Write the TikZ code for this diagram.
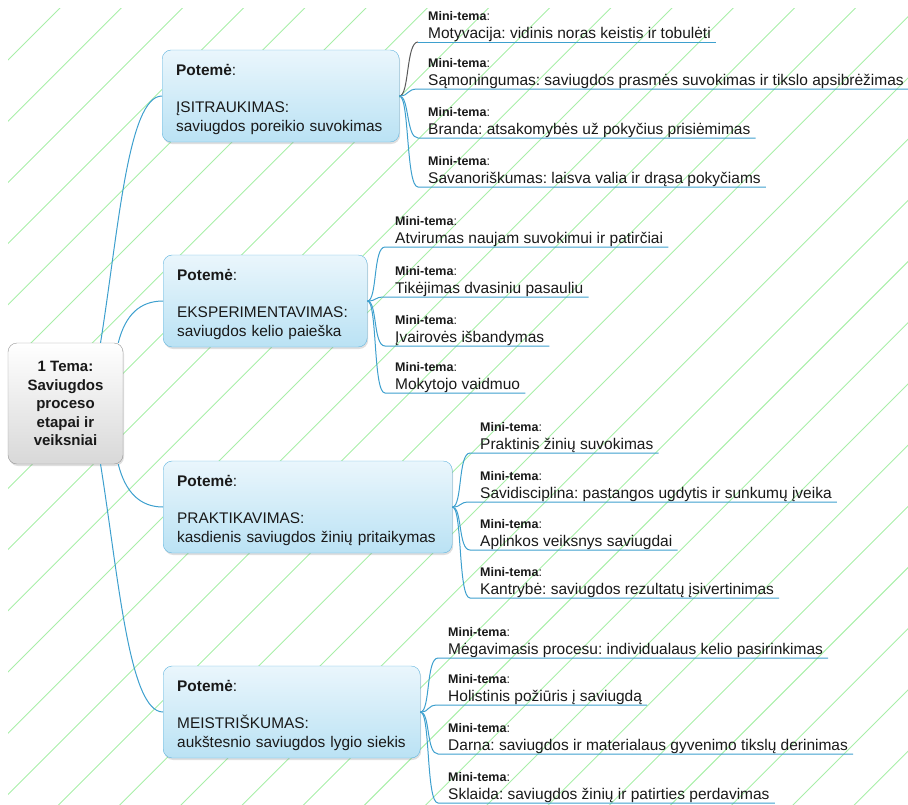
\documentclass[tikz,border=0pt]{standalone}
\usepackage{fontspec}
\setmainfont{Liberation Sans}
\usetikzlibrary{shadows}
\frenchspacing

\definecolor{stripe}{RGB}{168,238,168}
\definecolor{branch}{RGB}{62,160,206}
\definecolor{boxline}{RGB}{96,180,222}
\definecolor{boxtop}{RGB}{234,246,252}
\definecolor{boxbot}{RGB}{186,226,244}
\definecolor{temaline}{RGB}{150,150,150}
\definecolor{temabot}{RGB}{216,216,216}
\definecolor{txt}{RGB}{25,25,25}

\begin{document}
\begin{tikzpicture}[x=1pt, y=-1pt, text=txt]

\useasboundingbox (0,0) rectangle (908,804);

\begin{scope}
    \clip (8,8) rectangle (908,804);
    \foreach \k in {0,...,27}
        \draw[stripe, line width=0.9pt] ({68+61.2*\k},0) -- ({68+61.2*\k-900},900);
\end{scope}

\begin{scope}[every node/.style={draw=temaline, rounded corners=9pt, top color=white, bottom color=temabot, align=center, minimum width=115pt, minimum height=121pt, font=\fontsize{15}{18.5}\selectfont\bfseries, drop shadow={opacity=0.25, shadow xshift=1pt, shadow yshift=-2pt}}]
    \node (tema) at (65.5,403.5) {1 Tema:\\Saviugdos\\proceso\\etapai ir\\veiksniai};
\end{scope}

\begin{scope}[every node/.style={draw=boxline, rounded corners=9pt, top color=boxtop, bottom color=boxbot, anchor=west, align=left, minimum height=92pt, inner xsep=14pt, font=\fontsize{15.4}{19}\selectfont, drop shadow={opacity=0.25, shadow xshift=1pt, shadow yshift=-2pt}}]
    \node[text width=209pt] (p1) at (162,96) {\rule{0pt}{18.5pt}\textbf{Potemė}:\\[18pt]ĮSITRAUKIMAS:\\saviugdos poreikio suvokimas};
    \node[text width=176pt] (p2) at (163,301) {\rule{0pt}{18.5pt}\textbf{Potemė}:\\[18pt]EKSPERIMENTAVIMAS:\\saviugdos kelio paieška};
    \node[text width=261pt] (p3) at (163,507) {\rule{0pt}{18.5pt}\textbf{Potemė}:\\[18pt]PRAKTIKAVIMAS:\\kasdienis saviugdos žinių pritaikymas};
    \node[text width=229pt] (p4) at (163,712) {\rule{0pt}{18.5pt}\textbf{Potemė}:\\[18pt]MEISTRIŠKUMAS:\\aukštesnio saviugdos lygio siekis};
\end{scope}

\begin{scope}[every node/.style={anchor=south west, align=left, inner sep=0pt, text depth=3.5pt, font=\fontsize{15.5}{17.5}\selectfont}]
    \node (m11) at (428,42) {{\fontsize{12.5}{14}\selectfont\textbf{Mini-tema}:}\\Motyvacija: vidinis noras keistis ir tobulėti};
    \node (m12) at (428,89) {{\fontsize{12.5}{14}\selectfont\textbf{Mini-tema}:}\\Sąmoningumas: saviugdos prasmės suvokimas ir tikslo apsibrėžimas};
    \node (m13) at (428,138) {{\fontsize{12.5}{14}\selectfont\textbf{Mini-tema}:}\\Branda: atsakomybės už pokyčius prisiėmimas};
    \node (m14) at (428,187) {{\fontsize{12.5}{14}\selectfont\textbf{Mini-tema}:}\\Savanoriškumas: laisva valia ir drąsa pokyčiams};

    \node (m21) at (395,247) {{\fontsize{12.5}{14}\selectfont\textbf{Mini-tema}:}\\Atvirumas naujam suvokimui ir patirčiai};
    \node (m22) at (395,297) {{\fontsize{12.5}{14}\selectfont\textbf{Mini-tema}:}\\Tikėjimas dvasiniu pasauliu};
    \node (m23) at (395,346) {{\fontsize{12.5}{14}\selectfont\textbf{Mini-tema}:}\\Įvairovės išbandymas};
    \node (m24) at (395,393) {{\fontsize{12.5}{14}\selectfont\textbf{Mini-tema}:}\\Mokytojo vaidmuo};

    \node (m31) at (480,453) {{\fontsize{12.5}{14}\selectfont\textbf{Mini-tema}:}\\Praktinis žinių suvokimas};
    \node (m32) at (480,502) {{\fontsize{12.5}{14}\selectfont\textbf{Mini-tema}:}\\Savidisciplina: pastangos ugdytis ir sunkumų įveika};
    \node (m33) at (480,550) {{\fontsize{12.5}{14}\selectfont\textbf{Mini-tema}:}\\Aplinkos veiksnys saviugdai};
    \node (m34) at (480,598) {{\fontsize{12.5}{14}\selectfont\textbf{Mini-tema}:}\\Kantrybė: saviugdos rezultatų įsivertinimas};

    \node (m41) at (448,658) {{\fontsize{12.5}{14}\selectfont\textbf{Mini-tema}:}\\Mėgavimasis procesu: individualaus kelio pasirinkimas};
    \node (m42) at (448,705) {{\fontsize{12.5}{14}\selectfont\textbf{Mini-tema}:}\\Holistinis požiūris į saviugdą};
    \node (m43) at (448,754) {{\fontsize{12.5}{14}\selectfont\textbf{Mini-tema}:}\\Darna: saviugdos ir materialaus gyvenimo tikslų derinimas};
    \node (m44) at (448,803) {{\fontsize{12.5}{14}\selectfont\textbf{Mini-tema}:}\\Sklaida: saviugdos žinių ir patirties perdavimas};
\end{scope}

\begin{scope}[branch, line width=1pt]
    \draw (tema.60) .. controls +(18,-113) and +(-34,0) .. (p1.west);
    \draw (tema.49) .. controls +(7,-28) and +(-23,0) .. (p2.west);
    \draw (tema.-49) .. controls +(7,28) and +(-23,0) .. (p3.west);
    \draw (tema.-60) .. controls +(18,113) and +(-34,0) .. (p4.west);

    \draw[black!65] (p1.east) .. controls +(10,0) and +(-12,0) .. ([xshift=-10pt]m11.south west);
    \draw ([xshift=-10pt]m11.south west) -- ([xshift=5pt]m11.south east);
    \draw (p1.east) .. controls +(10,0) and +(-12,0) .. ([xshift=-10pt]m12.south west) -- ([xshift=5pt]m12.south east);
    \draw (p1.east) .. controls +(10,0) and +(-12,0) .. ([xshift=-10pt]m13.south west) -- ([xshift=5pt]m13.south east);
    \draw (p1.east) .. controls +(10,0) and +(-12,0) .. ([xshift=-10pt]m14.south west) -- ([xshift=5pt]m14.south east);

    \draw (p2.east) .. controls +(10,0) and +(-12,0) .. ([xshift=-10pt]m21.south west) -- ([xshift=5pt]m21.south east);
    \draw (p2.east) .. controls +(10,0) and +(-12,0) .. ([xshift=-10pt]m22.south west) -- ([xshift=5pt]m22.south east);
    \draw (p2.east) .. controls +(10,0) and +(-12,0) .. ([xshift=-10pt]m23.south west) -- ([xshift=5pt]m23.south east);
    \draw (p2.east) .. controls +(10,0) and +(-12,0) .. ([xshift=-10pt]m24.south west) -- ([xshift=5pt]m24.south east);

    \draw (p3.east) .. controls +(10,0) and +(-12,0) .. ([xshift=-10pt]m31.south west) -- ([xshift=5pt]m31.south east);
    \draw (p3.east) .. controls +(10,0) and +(-12,0) .. ([xshift=-10pt]m32.south west) -- ([xshift=5pt]m32.south east);
    \draw (p3.east) .. controls +(10,0) and +(-12,0) .. ([xshift=-10pt]m33.south west) -- ([xshift=5pt]m33.south east);
    \draw (p3.east) .. controls +(10,0) and +(-12,0) .. ([xshift=-10pt]m34.south west) -- ([xshift=5pt]m34.south east);

    \draw (p4.east) .. controls +(10,0) and +(-12,0) .. ([xshift=-10pt]m41.south west) -- ([xshift=5pt]m41.south east);
    \draw (p4.east) .. controls +(10,0) and +(-12,0) .. ([xshift=-10pt]m42.south west) -- ([xshift=5pt]m42.south east);
    \draw (p4.east) .. controls +(10,0) and +(-12,0) .. ([xshift=-10pt]m43.south west) -- ([xshift=5pt]m43.south east);
    \draw (p4.east) .. controls +(10,0) and +(-12,0) .. ([xshift=-10pt]m44.south west) -- ([xshift=5pt]m44.south east);
\end{scope}

\end{tikzpicture}
\end{document}
